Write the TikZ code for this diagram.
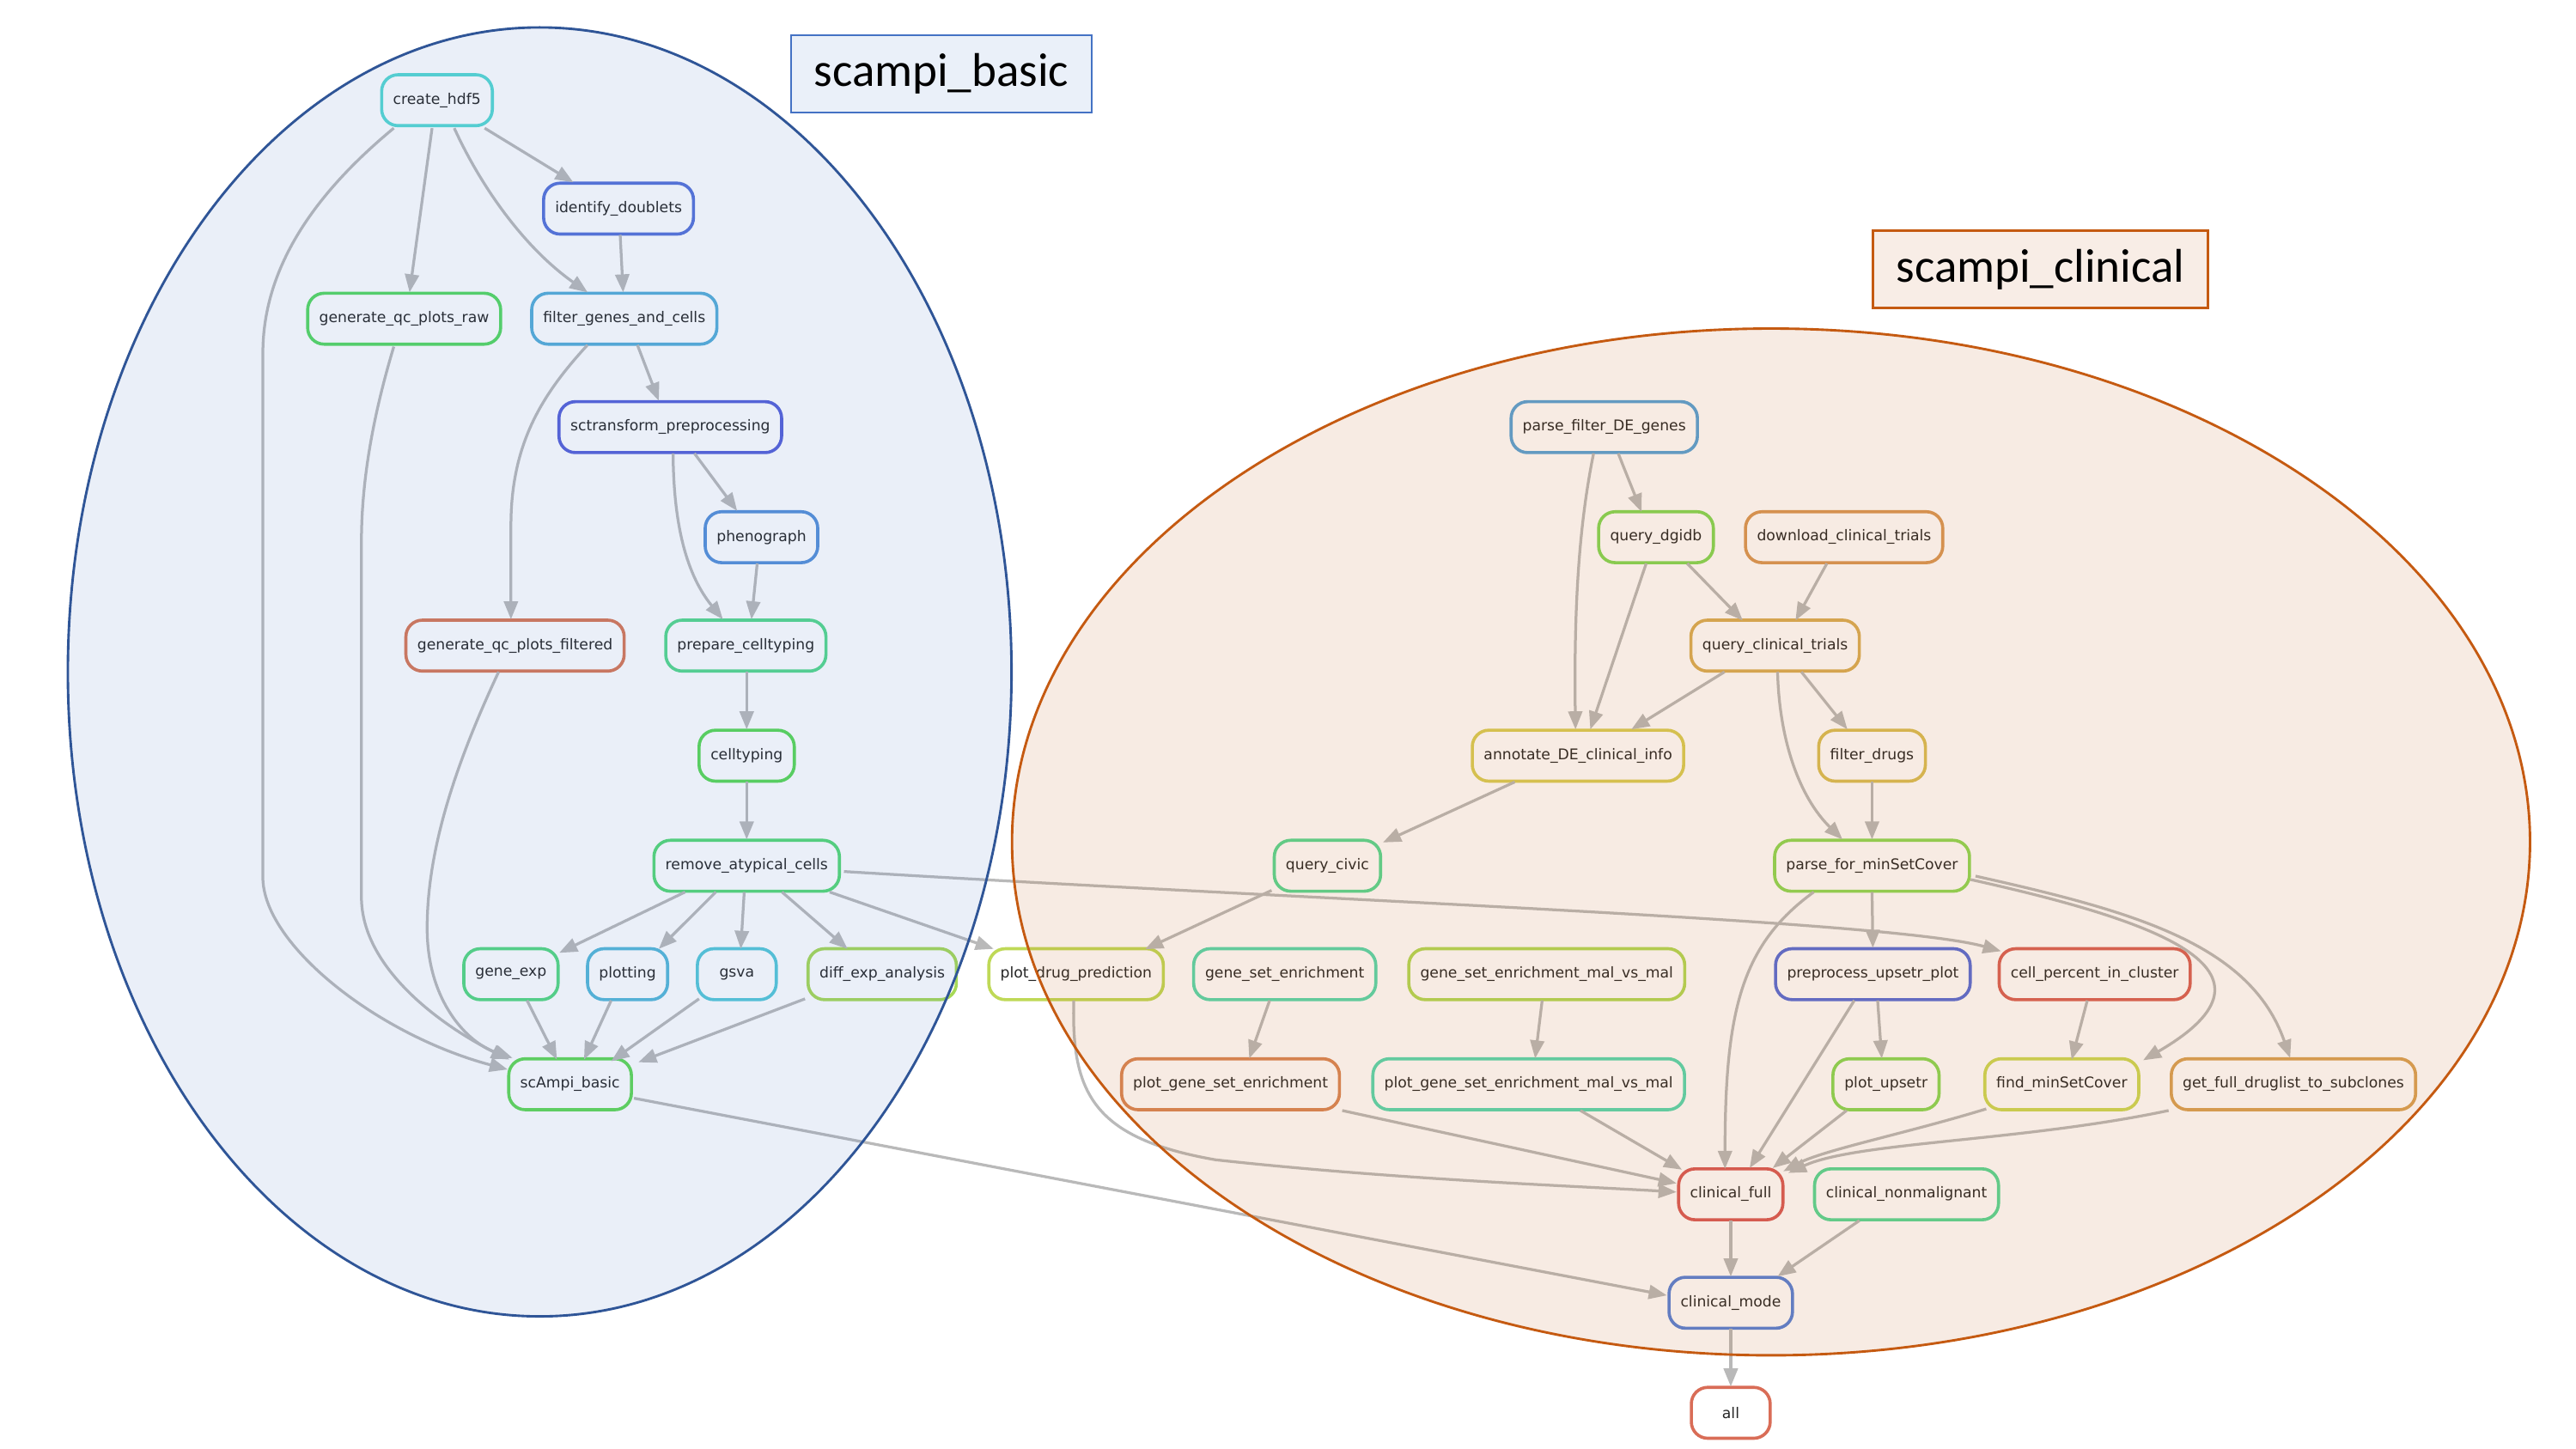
\documentclass[tikz,border=0pt]{standalone}
\usepackage{fontspec}
\setmainfont{DejaVu Sans}
\newfontfamily\titlefont{Carlito}
\usetikzlibrary{arrows.meta,calc}
\definecolor{edgegray}{HTML}{B9B9B9}
\definecolor{cch}{HTML}{57D9D3}
\definecolor{cid}{HTML}{5773D9}
\definecolor{cgr}{HTML}{57D962}
\definecolor{cfg}{HTML}{57AED9}
\definecolor{csc}{HTML}{5762D9}
\definecolor{cph}{HTML}{5791D9}
\definecolor{cgf}{HTML}{D97857}
\definecolor{cpc}{HTML}{57D98D}
\definecolor{cct}{HTML}{5BD957}
\definecolor{cra}{HTML}{57D977}
\definecolor{cge}{HTML}{57D982}
\definecolor{cpl}{HTML}{57B8D9}
\definecolor{cgs}{HTML}{57C8D9}
\definecolor{cde}{HTML}{A7D957}
\definecolor{cpd}{HTML}{BFD957}
\definecolor{csb}{HTML}{62D957}
\definecolor{cpf}{HTML}{57A3D9}
\definecolor{cqd}{HTML}{82D957}
\definecolor{cdc}{HTML}{D99857}
\definecolor{cqc}{HTML}{D9AE57}
\definecolor{can}{HTML}{D9CE57}
\definecolor{cfd}{HTML}{D9BF57}
\definecolor{cqv}{HTML}{57D994}
\definecolor{cpm}{HTML}{8DD957}
\definecolor{cse}{HTML}{57D9AE}
\definecolor{csm}{HTML}{B2D957}
\definecolor{cpu}{HTML}{576DD9}
\definecolor{ccp}{HTML}{D96257}
\definecolor{cps}{HTML}{D98757}
\definecolor{cpg}{HTML}{57D9B2}
\definecolor{cup}{HTML}{89D957}
\definecolor{cfm}{HTML}{CCD957}
\definecolor{cgd}{HTML}{D9A357}
\definecolor{ccf}{HTML}{D95B57}
\definecolor{ccn}{HTML}{57D998}
\definecolor{ccm}{HTML}{5782D9}
\definecolor{cal}{HTML}{D96D57}
\definecolor{basicline}{HTML}{2F5597}
\definecolor{basicfill}{HTML}{4472C4}
\definecolor{basicbox}{HTML}{4472C4}
\definecolor{basicboxfill}{HTML}{EAF0F9}
\definecolor{clinline}{HTML}{C55A11}
\definecolor{clinfill}{HTML}{C0601A}
\definecolor{clinboxfill}{HTML}{F8EDE6}
\tikzset{
  job/.style={draw=#1, line width=1.9pt, rounded corners=10pt, fill=white,
    minimum height=31pt, minimum width=48pt, inner xsep=7pt, inner ysep=0pt,
    font=\fontsize{9}{11}\selectfont, text=black!85, outer sep=0pt},
  edge/.style={draw=edgegray, line width=1.7pt, -{Triangle[length=11pt,width=8.5pt]}},
  titlebox/.style={line width=1.4pt, inner sep=0pt, text=black,
    font=\titlefont\fontsize{28.8}{34}\selectfont}
}
\begin{document}
\begin{tikzpicture}[x=1pt,y=-1pt]
\useasboundingbox (0,0) rectangle (1568,882);
\fill[white] (0,0) rectangle (1568,882);
% ---------- nodes: scampi_basic ----------
\node[job=cch] (ch5) at (266,61) {create\_hdf5};
\node[job=cid] (idd) at (376.5,127) {identify\_doublets};
\node[job=cgr] (gqr) at (246,194) {generate\_qc\_plots\_raw};
\node[job=cfg] (fgc) at (380,194) {filter\_genes\_and\_cells};
\node[job=csc] (sct) at (408,260) {sctransform\_preprocessing};
\node[job=cph] (phe) at (463.5,327) {phenograph};
\node[job=cgf] (gqf) at (313.5,393) {generate\_qc\_plots\_filtered};
\node[job=cpc] (pct) at (454,393) {prepare\_celltyping};
\node[job=cct] (ct) at (454.5,460) {celltyping};
\node[job=cra] (rac) at (454.5,527) {remove\_atypical\_cells};
\node[job=cge] (ge) at (311,593) {gene\_exp};
\node[job=cpl] (plt) at (382,593) {plotting};
\node[job=cgs] (gsv) at (448.5,593) {gsva};
\node[job=cde] (dea) at (537,593) {diff\_exp\_analysis};
\node[job=cpd] (pdp) at (655,593) {plot\_drug\_prediction};
\node[job=csb] (sb) at (347,660) {scAmpi\_basic};
% ---------- nodes: scampi_clinical ----------
\node[job=cpf] (pfd) at (976.5,260) {parse\_filter\_DE\_genes};
\node[job=cqd] (qdg) at (1008,327) {query\_dgidb};
\node[job=cdc] (dct) at (1122.5,327) {download\_clinical\_trials};
\node[job=cqc] (qct) at (1080.5,393) {query\_clinical\_trials};
\node[job=can] (ann) at (960.5,460) {annotate\_DE\_clinical\_info};
\node[job=cfd] (fd) at (1139.5,460) {filter\_drugs};
\node[job=cqv] (qcv) at (808,527) {query\_civic};
\node[job=cpm] (pfm) at (1139.5,527) {parse\_for\_minSetCover};
\node[job=cse] (gse) at (782,593) {gene\_set\_enrichment};
\node[job=csm] (gsm) at (941.5,593) {gene\_set\_enrichment\_mal\_vs\_mal};
\node[job=cpu] (pup) at (1140,593) {preprocess\_upsetr\_plot};
\node[job=ccp] (cpcl) at (1275,593) {cell\_percent\_in\_cluster};
\node[job=cps] (pgs) at (749,660) {plot\_gene\_set\_enrichment};
\node[job=cpg] (pgm) at (930.5,660) {plot\_gene\_set\_enrichment\_mal\_vs\_mal};
\node[job=cup] (ups) at (1148,660) {plot\_upsetr};
\node[job=cfm] (fms) at (1255,660) {find\_minSetCover};
\node[job=cgd] (gfd) at (1396,660) {get\_full\_druglist\_to\_subclones};
\node[job=ccf] (cf) at (1053.5,727) {clinical\_full};
\node[job=ccn] (cnm) at (1160.5,727) {clinical\_nonmalignant};
\node[job=ccm] (cm) at (1053.5,793) {clinical\_mode};
\node[job=cal] (alln) at (1053.5,860) {all};
% ---------- edges: basic ----------
\draw[edge] ($(ch5)+(29,17)$) -- ($(idd)+(-27.5,-16)$);
\draw[edge] ($(ch5)+(-3,17)$) -- ($(gqr)+(3.3,-16)$);
\draw[edge] ($(ch5)+(10.5,17)$) .. controls (292,112) and (318,150) .. ($(fgc)+(-22.3,-16)$);
\draw[edge] ($(ch5)+(-26.3,17)$) .. controls (195,115) and (160,160) .. (160,215) -- (160,534) .. controls (160,575) and (230,630) .. ($(sb)+(-38,-9)$);
\draw[edge] ($(idd)+(1,16)$) -- ($(fgc)+(-0.7,-16)$);
\draw[edge] ($(gqr)+(-6.3,17)$) .. controls (228,250) and (220,290) .. (220,330) -- (220,546) .. controls (220,590) and (270,625) .. ($(sb)+(-37,-15)$);
\draw[edge] ($(fgc)+(8,16)$) -- ($(sct)+(-7,-16)$);
\draw[edge] ($(fgc)+(-22.4,16)$) .. controls (330,240) and (311,270) .. (311,320) -- ($(gqf)+(-2.5,-16)$);
\draw[edge] ($(sct)+(14.7,16)$) -- ($(phe)+(-14.8,-16)$);
\draw[edge] ($(sct)+(1.7,16)$) .. controls (410,320) and (418,350) .. ($(pct)+(-14,-16)$);
\draw[edge] ($(phe)+(-2.6,16)$) -- ($(pct)+(3.4,-16)$);
\draw[edge] ($(gqf)+(-10,16)$) .. controls (275,470) and (260,520) .. (260,565) .. controls (260,610) and (285,635) .. ($(sb)+(-35,-16)$);
\draw[edge] ($(pct)+(0.5,16)$) -- ($(ct)+(0,-16)$);
\draw[edge] ($(ct)+(0,16)$) -- ($(rac)+(0,-16)$);
\draw[edge] ($(rac)+(-37.5,16)$) -- ($(ge)+(29.4,-13)$);
\draw[edge] ($(rac)+(-18.8,16)$) -- ($(plt)+(19,-15.4)$);
\draw[edge] ($(rac)+(-1.5,16)$) -- ($(gsv)+(2.4,-15.4)$);
\draw[edge] ($(rac)+(21.5,16)$) -- ($(dea)+(-21.1,-15.4)$);
\draw[edge] ($(rac)+(50.5,16)$) -- ($(pdp)+(-50.2,-15.4)$);
\draw[edge] ($(rac)+(59.2,3.5)$) .. controls (800,548) and (1150,560) .. ($(cpcl)+(-57,-14)$);
\draw[edge] ($(ge)+(9.8,16)$) -- ($(sb)+(-8,-15)$);
\draw[edge] ($(plt)+(-10,16)$) -- ($(sb)+(8.5,-15)$);
\draw[edge] ($(gsv)+(-23,15)$) -- ($(sb)+(25,-14)$);
\draw[edge] ($(dea)+(-47,15)$) -- ($(sb)+(41.6,-13.4)$);
\draw[edge] ($(sb)+(38.9,8.5)$) -- ($(cm)+(-38.9,-4.5)$);
% ---------- edges: clinical ----------
\draw[edge] ($(pfd)+(8.5,16)$) -- ($(qdg)+(-8.8,-15.4)$);
\draw[edge] ($(pfd)+(-6.5,16)$) .. controls (961,320) and (958,370) .. ($(ann)+(-1.5,-16)$);
\draw[edge] ($(qdg)+(-6,16)$) -- ($(ann)+(7.5,-16)$);
\draw[edge] ($(qdg)+(19,16)$) -- ($(qct)+(-19.7,-15.3)$);
\draw[edge] ($(dct)+(-10.5,16)$) -- ($(qct)+(12.4,-15.3)$);
\draw[edge] ($(qct)+(-30.8,16)$) -- ($(ann)+(32.5,-16)$);
\draw[edge] ($(qct)+(16,16)$) -- ($(fd)+(-15,-16)$);
\draw[edge] ($(qct)+(1.5,16)$) .. controls (1083,450) and (1095,485) .. ($(pfm)+(-18,-16)$);
\draw[edge] ($(fd)+(0,16)$) -- ($(pfm)+(0,-16)$);
\draw[edge] ($(ann)+(-38.5,16)$) -- ($(qcv)+(33.8,-14.2)$);
\draw[edge] ($(qcv)+(-34,15)$) -- ($(pdp)+(42,-15.2)$);
\draw[edge] ($(pfm)+(-35.5,16)$) .. controls (1060,575) and (1050,615) .. ($(cf)+(-3.5,-15.5)$);
\draw[edge] ($(pfm)+(0,16)$) -- ($(pup)+(0,-16)$);
\draw[edge] ($(pfm)+(60,8.4)$) .. controls (1310,560) and (1400,590) .. ($(fms)+(49.5,-14.6)$);
\draw[edge] ($(pfm)+(63,6.3)$) .. controls (1300,555) and (1370,575) .. ($(gfd)+(-2,-16)$);
\draw[edge] ($(pup)+(2.9,16)$) -- ($(ups)+(-2.6,-15.7)$);
\draw[edge] ($(pup)+(-11.3,16)$) -- ($(cf)+(11.5,-16)$);
\draw[edge] ($(cpcl)+(-4.5,16)$) -- ($(fms)+(6,-15)$);
\draw[edge] ($(gse)+(-9.2,16)$) -- ($(pgs)+(11.4,-15.7)$);
\draw[edge] ($(gsm)+(-2.8,16)$) -- ($(pgm)+(3.9,-15.7)$);
\draw[edge] ($(pdp)+(-1.4,16)$) .. controls (652,665) and (665,693) .. (740,706) .. controls (850,718) and (960,722) .. ($(cf)+(-33,-1.4)$);
\draw[edge] ($(pgs)+(68,16)$) -- ($(cf)+(-33,-6.7)$);
\draw[edge] ($(pgm)+(31.5,16)$) -- ($(cf)+(-29.7,-15)$);
\draw[edge] ($(ups)+(-24,16)$) -- ($(cf)+(25.5,-16)$);
\draw[edge] ($(fms)+(-46,15)$) .. controls (1160,690) and (1110,700) .. ($(cf)+(32,-14)$);
\draw[edge] ($(gfd)+(-76,16)$) .. controls (1230,695) and (1130,695) .. ($(cf)+(35,-13)$);
\draw[edge] ($(cf)+(0,16)$) -- ($(cm)+(0,-16)$);
\draw[edge] ($(cnm)+(-28.7,16)$) -- ($(cm)+(28.5,-16)$);
\draw[edge] ($(cm)+(0,16)$) -- ($(alln)+(0,-16)$);
% ---------- group ellipses (translucent overlays) ----------
\fill[basicfill, fill opacity=0.11] (328.5,409) ellipse [x radius=287.2pt, y radius=392.3pt];
\fill[clinfill, fill opacity=0.12] (1078,512.5) ellipse [x radius=462pt, y radius=312.5pt];
\draw[basicline, line width=1.5pt] (328.5,409) ellipse [x radius=287.2pt, y radius=392.3pt];
\draw[clinline, line width=1.5pt] (1078,512.5) ellipse [x radius=462pt, y radius=312.5pt];
% ---------- group titles ----------
\node[titlebox, draw=basicbox, fill=basicboxfill, minimum width=183pt, minimum height=47pt] (tbasic) at (573,45) {scampi\_basic};
\node[titlebox, draw=clinline, fill=clinboxfill, minimum width=204pt, minimum height=47pt] (tclin) at (1242,164) {scampi\_clinical};
\end{tikzpicture}
\end{document}
